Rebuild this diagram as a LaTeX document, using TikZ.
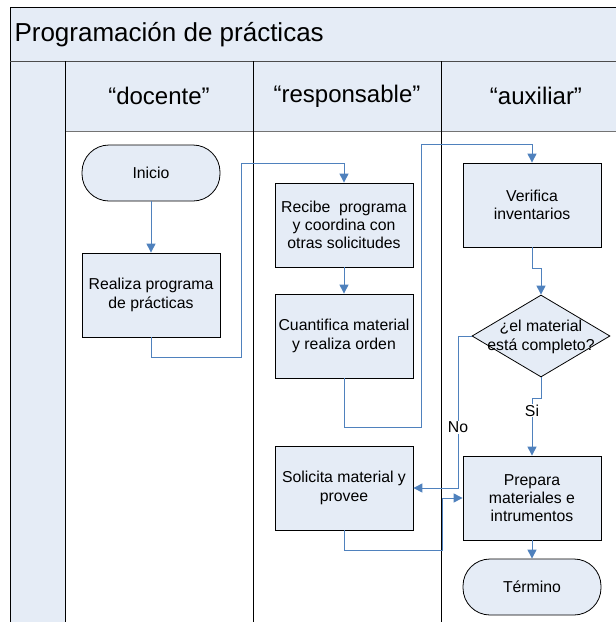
\documentclass[tikz,border=0pt]{standalone}
\usepackage{fontspec}
\setmainfont{Liberation Sans}
\usetikzlibrary{arrows.meta,shapes.geometric}
\definecolor{lanefill}{RGB}{229,236,246}
\definecolor{flowblue}{RGB}{79,129,189}
\begin{document}
\begin{tikzpicture}[x=1pt, y=-1pt, >={Triangle[width=9pt,length=9pt]},
    proc/.style={draw, line width=0.8pt, fill=lanefill, minimum width=138pt,
        minimum height=84pt, inner sep=0pt, align=center,
        font=\fontsize{15.8}{18.3}\selectfont},
    term/.style={proc, minimum height=56pt, rounded corners=27pt},
    decision/.style={draw, line width=0.8pt, fill=lanefill, shape=diamond,
        minimum width=138pt, minimum height=82pt, inner sep=0pt},
    flow/.style={flowblue, line width=1pt},
    lane/.style={font=\fontsize{24}{28}\selectfont}]
    \useasboundingbox (0,0) rectangle (616,622);
    % pool and lanes
    \fill[lanefill] (10,7) rectangle (630,131);
    \fill[lanefill] (10,131) rectangle (65,630);
    \draw[line width=1pt] (10,630)--(10,7)--(630,7);
    \draw[line width=1pt, black!70] (10,61)--(630,61);
    \draw[line width=1pt, black!55] (65,131)--(630,131);
    \foreach \x in {65,253,441}
    {
        \draw[line width=1pt] (\x,61)--(\x,630);
    }
    \node[anchor=west, font=\fontsize{26}{30}\selectfont] (titulo) at (11,35) {Programación de prácticas};
    \node[lane] (docente) at (159,96) {“docente”};
    \node[lane] (responsable) at (347,96) {“responsable”};
    \node[lane] (auxiliar) at (536,96) {“auxiliar”};
    % steps
    \node[term] (inicio) at (151,173) {Inicio};
    \node[proc] (realiza) at (151,295) {Realiza programa\\de prácticas};
    \node[proc] (recibe) at (344,225) {Recibe\ \ programa\\y coordina con\\otras solicitudes};
    \node[proc] (cuantifica) at (344,336) {Cuantifica material\\y realiza orden};
    \node[proc] (verifica) at (532,205) {Verifica\\inventarios};
    \node[decision] (check) at (541,336) {};
    \node[align=center, font=\fontsize{15.8}{18.3}\selectfont] (checktext) at (541,337) {¿el material\\está completo?};
    \node[proc] (solicita) at (344,488) {Solicita material y\\provee};
    \node[proc] (prepara) at (532,498) {Prepara\\materiales e\\intrumentos};
    \node[term] (termino) at (532,587) {Término};
    % connectors
    \draw[flow,->] (inicio)--(realiza);
    \draw[flow,->] (realiza.south) |- (241,357) |- (344,163) -- (recibe.north);
    \draw[flow,->] (recibe)--(cuantifica);
    \draw[flow,->] (cuantifica.south) |- (421,427) |- (532,144) -- (verifica.north);
    \draw[flow,->] (verifica.south) |- (541,268) -- (check.north);
    \draw[flow,->] (check.south) |- (532,398) -- node[pos=0.22, fill=white, text=black, inner sep=1pt, font=\fontsize{15.8}{18}\selectfont]{Si} (prepara.north);
    \draw[flow,->] (check.west) -| node[pos=0.8, fill=white, text=black, inner sep=1pt, font=\fontsize{15.8}{18}\selectfont]{No} (458,488) -- (solicita.east);
    \draw[flow,->] (solicita.south) |- (442,550) |- (prepara.west);
    \draw[flow,->] (prepara)--(termino);
\end{tikzpicture}
\end{document}
